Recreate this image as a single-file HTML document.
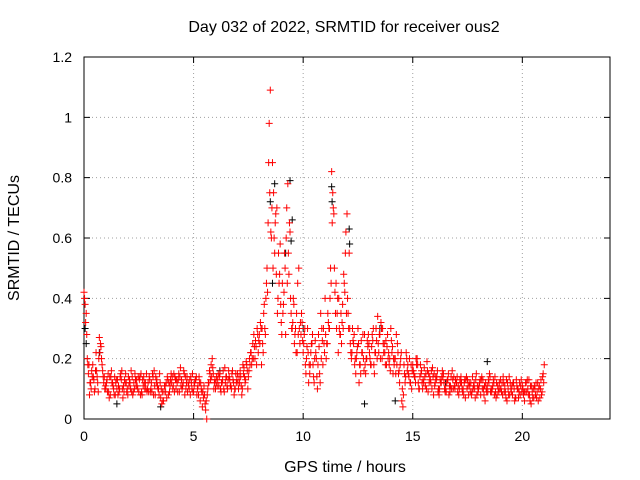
<!DOCTYPE html>
<html><head><meta charset="utf-8"><style>
body{margin:0;background:#fff}
svg{display:block;font-family:"Liberation Sans",sans-serif;font-size:14px}
.big{font-size:16px}
</style></head><body>
<svg id="chart" width="640" height="480">
<text class="big" x="344" y="32" text-anchor="middle">Day 032 of 2022, SRMTID for receiver ous2</text>
<text class="big" x="345" y="472" text-anchor="middle">GPS time / hours</text>
<text class="big" transform="translate(19,238) rotate(-90)" text-anchor="middle">SRMTID / TECUs</text>
<g id="grid"></g>
<g id="axes"></g>
<g id="marks"></g>
</svg>
<script>
const xTicks=[0,5,10,15,20];
const yTicks=[0,0.2,0.4,0.6,0.8,1,1.2];
const yTickLabels=["0","0.2","0.4","0.6","0.8","1","1.2"];
const seriesAStart=0, seriesBStart=0.05, seriesCStart=0.025, seriesDStart=0.075, sampleStep=0.1;
const seriesAValues=[.42,.35,.15,.12,.18,.10,.14,.27,.20,.12,
.10,.15,.08,.12,.14,.10,.09,.13,.11,.15,
.08,.12,.14,.10,.13,.09,.15,.11,.12,.10,
.13,.09,.16,.12,.10,.07,.06,.11,.14,.09,
.12,.15,.10,.13,.17,.11,.08,.14,.10,.12,
.09,.13,.11,.06,.04,.08,.00,.12,.18,.15,
.10,.13,.15,.12,.09,.14,.16,.11,.13,.10,
.15,.12,.08,.17,.19,.14,.22,.25,.20,.30,
.28,.18,.35,.40,.65,1.09,.85,.55,.70,.45,
.32,.38,.28,.78,.62,.30,.25,.35,.50,.28,
.22,.18,.30,.15,.25,.12,.20,.28,.35,.18,
.40,.25,.30,.82,.68,.45,.22,.28,.38,.42,
.68,.55,.20,.25,.15,.30,.18,.22,.28,.20,
.25,.18,.30,.22,.34,.28,.20,.25,.18,.22,
.30,.15,.20,.25,.12,.06,.18,.22,.15,.12,
.18,.14,.20,.10,.16,.12,.15,.09,.13,.17,
.11,.14,.08,.12,.15,.10,.13,.09,.16,.11,
.12,.08,.14,.10,.07,.13,.11,.09,.12,.15,
.10,.08,.13,.06,.11,.15,.09,.12,.07,.10,
.13,.08,.11,.06,.14,.09,.12,.07,.10,.08,
.11,.06,.09,.13,.05,.10,.08,.12,.07,.09,.18];
const seriesBValues=[.38,.20,.08,.16,.13,.22,.09,.25,.16,.10,
.13,.07,.16,.10,.12,.08,.14,.10,.13,.09,
.11,.16,.09,.13,.10,.14,.08,.12,.15,.09,
.10,.14,.08,.11,.15,.05,.09,.12,.08,.13,
.10,.14,.12,.09,.13,.16,.10,.12,.08,.15,
.12,.08,.14,.10,.07,.03,.10,.15,.20,.12,
.14,.11,.09,.16,.12,.10,.13,.15,.08,.12,
.10,.14,.18,.12,.16,.20,.18,.28,.24,.22,
.32,.25,.30,.50,.98,.60,.75,.68,.40,.58,
.45,.55,.70,.48,.35,.40,.30,.45,.25,.32,
.28,.20,.12,.22,.18,.26,.10,.15,.30,.25,
.20,.32,.50,.75,.42,.35,.30,.25,.48,.62,
.35,.25,.30,.18,.22,.12,.26,.20,.15,.24,
.20,.28,.15,.26,.22,.32,.25,.18,.28,.20,
.22,.18,.28,.15,.20,.04,.12,.16,.20,.10,
.15,.20,.12,.18,.10,.14,.19,.12,.16,.08,
.14,.09,.13,.16,.10,.12,.08,.14,.10,.13,
.09,.13,.10,.12,.14,.08,.12,.10,.07,.11,
.12,.14,.08,.10,.13,.09,.11,.14,.08,.12,
.09,.12,.07,.10,.12,.08,.06,.11,.09,.13,
.08,.12,.10,.06,.09,.11,.07,.10,.13,.15];
const seriesCValues=[.40,.28,.18,.10,.14,.16,.12,.22,.18,.14,
.12,.09,.14,.11,.08,.13,.10,.16,.09,.12,
.14,.10,.08,.15,.11,.13,.09,.14,.10,.12,
.09,.15,.11,.13,.08,.10,.06,.09,.13,.11,
.14,.09,.13,.15,.11,.12,.14,.09,.13,.10,
.11,.14,.08,.12,.09,.05,.08,.16,.14,.10,
.12,.15,.10,.13,.17,.11,.14,.10,.12,.15,
.12,.16,.10,.14,.18,.16,.22,.20,.26,.28,
.25,.30,.38,.45,.85,.62,.50,.65,.35,.48,
.28,.42,.60,.55,.40,.32,.28,.22,.30,.35,
.25,.15,.22,.18,.28,.20,.14,.24,.20,.30,
.28,.35,.40,.65,.50,.30,.40,.35,.30,.55,
.40,.30,.22,.28,.20,.25,.15,.28,.18,.26,
.22,.24,.18,.30,.25,.20,.30,.22,.24,.18,
.26,.20,.15,.22,.18,.10,.15,.20,.14,.18,
.16,.12,.18,.14,.12,.17,.10,.15,.12,.14,
.12,.16,.10,.14,.12,.09,.15,.11,.13,.10,
.14,.10,.12,.08,.13,.11,.09,.14,.10,.08,
.11,.13,.10,.12,.09,.14,.10,.08,.12,.09,
.10,.14,.09,.12,.08,.11,.10,.13,.07,.11,
.10,.09,.13,.08,.11,.07,.12,.06,.10,.14];
const seriesDValues=[.32,.18,.12,.14,.09,.16,.20,.24,.14,.11,
.09,.14,.12,.08,.13,.11,.15,.07,.12,.10,
.13,.09,.12,.11,.14,.08,.13,.10,.09,.14,
.12,.08,.14,.10,.12,.09,.11,.07,.12,.15,
.11,.13,.09,.14,.10,.15,.12,.11,.14,.09,
.13,.10,.12,.09,.11,.06,.12,.13,.17,.13,
.11,.14,.12,.10,.14,.13,.11,.16,.10,.13,
.14,.11,.15,.13,.10,.18,.20,.24,.18,.26,
.30,.22,.28,.42,.75,.70,.60,.48,.55,.38,
.35,.50,.45,.65,.30,.38,.22,.28,.32,.26,
.30,.24,.18,.25,.14,.22,.18,.12,.26,.22,
.25,.30,.45,.70,.35,.40,.28,.32,.45,.35,
.30,.22,.26,.20,.24,.18,.22,.16,.20,.28,
.18,.26,.22,.20,.28,.30,.22,.26,.20,.16,
.24,.20,.18,.16,.22,.08,.14,.18,.12,.16,
.14,.18,.10,.15,.13,.11,.16,.14,.10,.15,
.13,.10,.12,.14,.09,.13,.11,.10,.14,.12,
.11,.12,.09,.13,.10,.12,.08,.11,.13,.09,
.13,.10,.11,.09,.12,.10,.13,.09,.11,.10,
.12,.09,.13,.08,.10,.12,.07,.10,.12,.09,
.09,.12,.08,.11,.07,.10,.09,.11,.08,.12];
const blackHours=[0.05,0.1,8.5,8.7,9.4,9.5,9.45,11.3,11.32,12.1,12.12,9.2,18.4,1.5,3.5,12.8,14.2,8.6,10,13.5,0.7,6.2,16.5];
const blackValues=[0.30,0.25,0.72,0.78,0.79,0.66,0.59,0.77,0.72,0.63,0.58,0.55,0.19,0.05,0.04,0.05,0.06,0.45,0.30,0.30,0.22,0.16,0.12];

const L=84,R=610,T=57,B=419,xMax=24,yMax=1.2;
const xs=h=>L+h/xMax*(R-L);
const ys=v=>B-v/yMax*(B-T);
const NS="http://www.w3.org/2000/svg";
const grid=document.getElementById('grid'),axes=document.getElementById('axes'),marks=document.getElementById('marks');
function mk(tag,attrs,parent){const e=document.createElementNS(NS,tag);for(const k in attrs)e.setAttribute(k,attrs[k]);parent.appendChild(e);return e;}
xTicks.forEach(t=>{
  if(t>0){const g=mk('line',{x1:xs(t),x2:xs(t),y1:T,y2:B,stroke:'#a0a0a0','stroke-dasharray':'1,3'},grid);
  
  }
  const tk=mk('path',{d:`M${xs(t)},${B}v-6M${xs(t)},${T}v6`,stroke:'#000'},axes);
  
  
  const lb=mk('text',{x:xs(t),y:B+22,'text-anchor':'middle'},axes);lb.textContent=t;
  
  
});
yTicks.forEach((t,i)=>{
  if(t>0&&t<yMax){const g=mk('line',{x1:L,x2:R,y1:ys(t),y2:ys(t),stroke:'#a0a0a0','stroke-dasharray':'1,3'},grid);
  
  }
  const tk=mk('path',{d:`M${L},${ys(t)}h6M${R},${ys(t)}h-6`,stroke:'#000'},axes);
  
  
  const lb=mk('text',{x:L-12,y:ys(t)+5,'text-anchor':'end'},axes);lb.textContent=yTickLabels[i];
  
  
});
const frame=mk('rect',{x:L,y:T,width:R-L,height:B-T,fill:'none',stroke:'#000'},axes);


function plus(h,v,color){
  const x=xs(h),y=ys(v);
  const p=mk('path',{d:`M${x-3.5},${y}h7M${x},${y-3.5}v7`,stroke:color,'stroke-width':1},marks);
  
  
}
blackValues.forEach((v,i)=>plus(blackHours[i],v,'#000'));
seriesAValues.forEach((v,i)=>plus(seriesAStart+i*sampleStep,v,'#f00'));
seriesBValues.forEach((v,i)=>plus(seriesBStart+i*sampleStep,v,'#f00'));
seriesCValues.forEach((v,i)=>plus(seriesCStart+i*sampleStep,v,'#f00'));
seriesDValues.forEach((v,i)=>plus(seriesDStart+i*sampleStep,v,'#f00'));
</script>
</body></html>
